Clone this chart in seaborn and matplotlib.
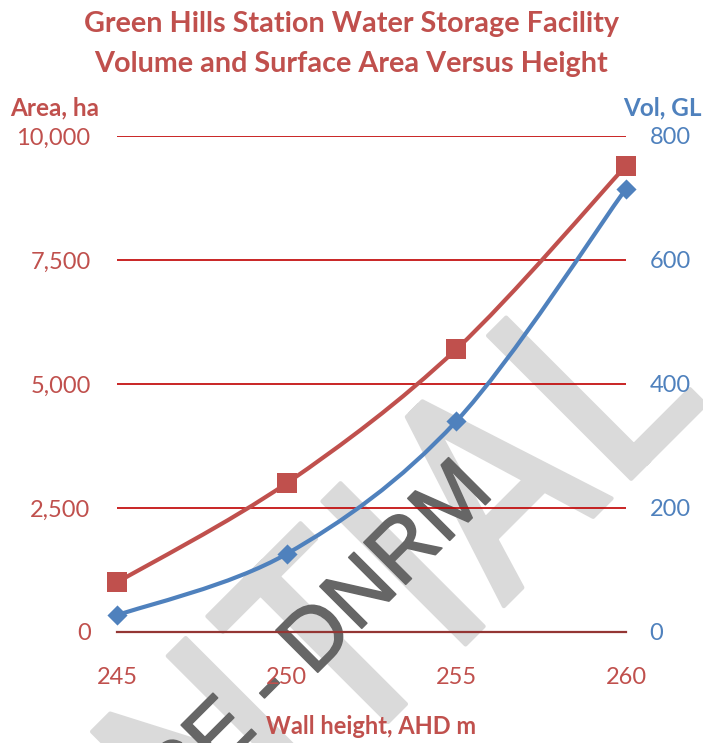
import numpy as np
import matplotlib
matplotlib.use("Agg")
import matplotlib.pyplot as plt
from matplotlib import font_manager
from matplotlib import patheffects as pe
from matplotlib.path import Path
from matplotlib.patches import PathPatch
import seaborn as sns

# Storage curve data
wall_height = [245, 250, 255, 260]
surface_area_ha = [1000, 3000, 5700, 9400]
volume_gl = [27, 126, 340, 715]

area_ticks = [0, 2500, 5000, 7500, 10000]
vol_ticks = [0, 200, 400, 600, 800]
height_ticks = [245, 250, 255, 260]

title_lines = ["Green Hills Station Water Storage Facility",
               "Volume and Surface Area Versus Height"]
area_label = "Area, ha"
vol_label = "Vol, GL"
height_label = "Wall height, AHD m"
watermark_big = "CONFIDENTIAL"
watermark_small = "RTI RELEASE - DNRM"

RED = "#C0504D"
BLUE = "#4F81BD"
GRID = "#C00000"
AXIS = "#943634"
WM_LIGHT = "#DADADA"
WM_DARK = "#666666"

sns.set_theme(style="white")
plt.rcParams["font.family"] = ["Lato", "DejaVu Sans"]

# Narrow face for the big watermark, if one is installed
installed = {f.name for f in font_manager.fontManager.ttflist}
if "Liberation Sans Narrow" in installed:
    wm_family, wm_size = "Liberation Sans Narrow", 215
elif "Roboto Condensed" in installed:
    wm_family, wm_size = "Roboto Condensed", 205
else:
    wm_family, wm_size = "Liberation Sans", 180

W, H = 703, 743
fig = plt.figure(figsize=(W / 100, H / 100), dpi=100)
fig.patch.set_facecolor("white")
ax = fig.add_axes([117 / W, 1 - 632 / H, 509 / W, 496 / H])
ax2 = ax.twinx()


def smooth_path(xs, ys):
    """Cubic Bezier path through the points (Catmull-Rom style smoothing)."""
    pts = np.column_stack([xs, ys]).astype(float)
    n = len(pts)
    verts, codes = [pts[0]], [Path.MOVETO]
    for i in range(n - 1):
        p0, p1 = pts[max(i - 1, 0)], pts[i]
        p2, p3 = pts[i + 1], pts[min(i + 2, n - 1)]
        verts += [p1 + (p2 - p0) / 6, p2 - (p3 - p1) / 6, p2]
        codes += [Path.CURVE4] * 3
    return Path(verts, codes)


# Smoothed series lines
ax.add_patch(PathPatch(smooth_path(wall_height, surface_area_ha), fill=False,
                       edgecolor=RED, lw=3.0, capstyle="round", zorder=3,
                       clip_on=False))
ax2.add_patch(PathPatch(smooth_path(wall_height, volume_gl), fill=False,
                        edgecolor=BLUE, lw=3.0, capstyle="round", zorder=3,
                        clip_on=False))

# Point markers
sns.scatterplot(x=wall_height, y=surface_area_ha, ax=ax, marker="s", s=210,
                color=RED, edgecolor=RED, linewidth=0, zorder=4, clip_on=False)
sns.scatterplot(x=wall_height, y=volume_gl, ax=ax2, marker="D", s=105,
                color=BLUE, edgecolor=BLUE, linewidth=0, zorder=4, clip_on=False)

# Axes limits and ticks
ax.set_xlim(245, 260)
ax.set_ylim(0, 10000)
ax2.set_ylim(0, 800)
ax.set_xticks(height_ticks)
ax.set_xticklabels([str(v) for v in height_ticks])
ax.set_yticks(area_ticks)
ax.set_yticklabels([f"{v:,}" for v in area_ticks])
ax2.set_yticks(vol_ticks)
ax2.set_yticklabels([str(v) for v in vol_ticks])

ax.set_axisbelow(True)
ax.yaxis.grid(True, color=GRID, lw=1.2)
ax.xaxis.grid(False)
ax2.grid(False)

for name in ["left", "right", "top"]:
    ax.spines[name].set_visible(False)
for sp in ax2.spines.values():
    sp.set_visible(False)
ax.spines["bottom"].set_color(AXIS)
ax.spines["bottom"].set_linewidth(1.6)
ax.spines["bottom"].set_zorder(2)

ax.tick_params(axis="x", direction="out", length=5, width=1.5, color=AXIS,
               labelcolor=RED, labelsize=17, pad=20)
ax.tick_params(axis="y", length=0, labelcolor=RED, labelsize=17, pad=19)
ax2.tick_params(axis="y", length=0, labelcolor=BLUE, labelsize=17, pad=17)
ax.set_xlabel("")
ax.set_ylabel("")
ax2.set_ylabel("")

# Watermarks behind the data
ax.text(712 / W, 1 - 398 / H, watermark_big, transform=fig.transFigure,
        rotation=45, rotation_mode="anchor", ha="right", va="baseline",
        fontsize=wm_size, color=WM_LIGHT, family=[wm_family],
        zorder=0.1, clip_on=False,
        path_effects=[pe.withStroke(linewidth=3, foreground=WM_LIGHT,
                                    joinstyle="round", capstyle="round")])
ax.text(496 / W, 1 - 494 / H, watermark_small, transform=fig.transFigure,
        rotation=45, rotation_mode="anchor", ha="right", va="baseline",
        fontsize=62, color=WM_DARK, family=["Liberation Sans"],
        zorder=0.2, clip_on=False,
        path_effects=[pe.withStroke(linewidth=1.2, foreground=WM_DARK,
                                    joinstyle="round")])

# Titles and axis captions
fig.text(0.5, 1 - 24 / H, title_lines[0], ha="center", va="center",
         fontsize=20.7, weight="bold", color=RED)
fig.text(0.5, 1 - 64 / H, title_lines[1], ha="center", va="center",
         fontsize=20.7, weight="bold", color=RED)
fig.text(55 / W, 1 - 108 / H, area_label, ha="center", va="center",
         fontsize=17.5, weight="bold", color=RED)
fig.text(662 / W, 1 - 108 / H, vol_label, ha="center", va="center",
         fontsize=17.5, weight="bold", color=BLUE)
fig.text(371.5 / W, 1 - 727 / H, height_label, ha="center", va="center",
         fontsize=17, weight="bold", color=RED)

fig.savefig("out.png", dpi=100, facecolor="white")
